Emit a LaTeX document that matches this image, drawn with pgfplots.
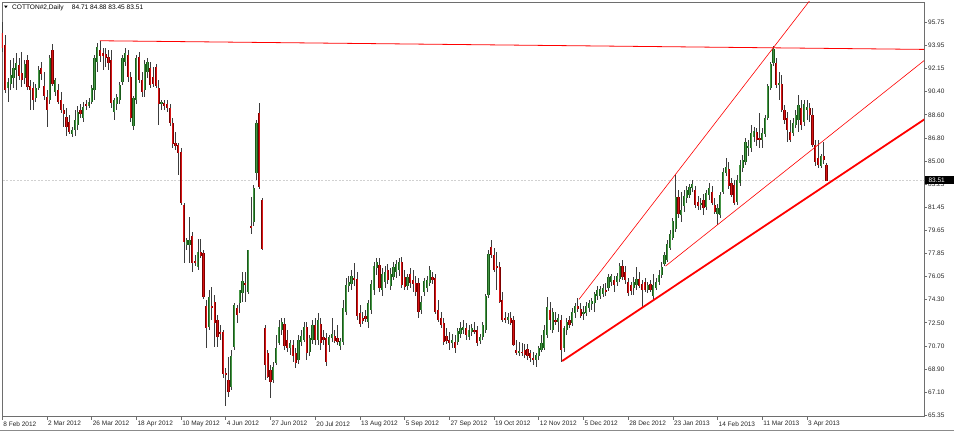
\documentclass[border=0pt]{standalone}
\usepackage{pgfplots}
\pgfplotsset{compat=1.18}
\usepackage{pgfplotstable}
\usepackage{fontspec}
\setmainfont{Liberation Sans}

\definecolor{upc}{RGB}{25,90,25}
\definecolor{upin}{RGB}{70,150,70}
\definecolor{dnc}{RGB}{125,0,0}
\definecolor{dnin}{RGB}{215,20,20}
\definecolor{wickc}{RGB}{60,60,60}
\definecolor{framec}{RGB}{110,110,110}

% daily bars: index, open, high, low, close
\pgfplotstableread{
i o h l c
0 94.93 95.78 93.46 93.77
1 94.00 94.77 90.28 90.51
2 90.67 91.44 89.59 91.13
3 90.98 92.84 90.51 91.68
4 91.44 92.99 90.67 92.22
5 92.06 93.38 90.51 92.60
6 92.45 92.99 91.29 91.60
7 91.83 93.46 90.75 91.29
8 91.44 92.84 90.98 92.53
9 92.84 93.22 90.51 90.75
10 90.82 91.29 88.97 90.51
11 90.67 91.13 88.97 89.74
12 89.90 90.98 89.59 90.67
13 90.67 92.37 90.51 92.06
14 92.22 92.68 91.29 91.75
15 90.82 91.91 89.74 90.05
16 89.97 90.51 87.65 88.97
17 89.74 93.22 89.43 92.99
18 93.61 94.07 90.82 90.98
19 90.36 91.44 90.05 91.29
20 90.51 90.98 89.43 89.59
21 89.74 90.36 88.73 88.97
22 88.97 89.43 87.65 88.66
23 88.42 89.12 86.95 87.65
24 88.04 88.58 87.11 87.26
25 87.11 87.65 86.88 87.42
26 87.42 88.97 86.95 88.19
27 87.81 89.28 87.42 88.81
28 88.97 89.43 88.35 88.66
29 88.35 89.59 88.04 89.20
30 89.43 89.74 88.97 89.28
31 89.28 89.90 89.12 89.59
32 89.59 90.90 89.43 90.67
33 90.51 93.22 89.74 92.99
34 92.68 94.15 91.91 93.84
35 93.61 94.33 92.68 93.15
36 93.38 93.77 92.06 93.15
37 93.30 93.77 92.29 92.99
38 93.07 93.61 92.06 92.60
39 92.84 93.61 89.12 89.51
40 88.81 89.90 88.19 89.74
41 89.43 90.20 88.97 89.97
42 89.74 91.13 89.43 90.90
43 91.13 93.22 90.90 92.99
44 92.68 93.77 92.37 93.38
45 93.22 93.61 91.13 91.52
46 91.52 91.91 88.04 88.35
47 87.73 90.05 87.42 89.90
48 89.74 93.22 89.43 92.99
49 93.07 93.46 91.06 91.29
50 91.29 91.91 89.97 90.36
51 90.51 92.84 89.97 92.53
52 91.91 92.99 91.44 92.68
53 92.22 92.68 90.67 90.90
54 91.52 92.29 90.75 90.98
55 92.29 92.53 90.67 90.82
56 90.67 91.29 87.81 89.43
57 89.43 89.74 88.97 89.59
58 89.51 89.74 88.97 89.28
59 89.43 89.74 88.81 89.12
60 89.12 89.43 87.73 87.96
61 87.96 88.35 86.03 86.33
62 86.41 87.26 85.87 86.18
63 86.26 86.41 83.94 85.64
64 85.72 86.03 81.61 81.77
65 81.61 81.77 77.12 78.75
66 78.52 79.06 78.13 78.90
67 78.52 80.68 77.12 78.90
68 79.21 79.52 76.43 77.12
69 77.28 77.74 76.89 77.12
70 76.81 78.98 76.58 77.98
71 77.98 78.98 77.51 77.67
72 77.90 78.13 74.34 74.49
73 73.80 74.26 70.55 72.09
74 72.17 75.03 71.94 74.49
75 73.80 75.27 72.71 73.64
76 74.11 74.65 70.62 72.48
77 72.71 73.10 70.62 71.40
78 71.78 72.33 71.16 71.63
79 71.78 71.94 68.22 68.53
80 68.61 69.00 66.06 68.46
81 68.07 69.85 66.75 67.14
82 67.53 70.39 67.29 69.93
83 70.62 74.03 70.39 73.87
84 73.64 73.87 72.48 73.10
85 74.03 75.03 73.25 75.03
86 74.80 76.43 74.11 75.73
87 75.58 76.43 74.11 75.50
88 74.88 78.13 74.72 78.13
89 79.99 82.23 79.37 79.91
90 80.30 83.16 79.99 82.93
91 84.09 88.19 83.55 87.96
92 88.73 89.51 82.85 83.01
93 82.00 82.15 78.13 78.21
94 72.09 72.33 68.07 69.23
95 70.16 70.39 68.22 68.30
96 68.84 69.23 66.68 67.91
97 68.07 69.46 67.84 69.07
98 69.38 71.55 69.23 70.55
99 70.93 72.71 70.78 72.17
100 71.94 72.87 71.55 72.56
101 72.40 72.87 70.39 70.70
102 71.16 71.94 70.24 70.55
103 70.55 71.16 70.00 70.93
104 70.78 71.16 69.46 69.93
105 70.16 70.55 69.00 69.38
106 69.62 71.55 69.31 71.16
107 71.01 71.94 70.70 71.47
108 71.16 72.56 71.01 72.17
109 72.17 72.56 69.62 70.16
110 70.24 71.55 69.93 71.32
111 71.16 72.71 70.85 72.33
112 72.33 72.87 70.78 71.16
113 71.16 73.25 70.78 72.71
114 72.40 72.87 70.39 70.93
115 71.40 71.94 70.78 71.16
116 71.32 71.71 69.15 69.46
117 70.78 71.55 70.24 71.40
118 71.32 72.87 71.01 71.63
119 71.47 71.94 70.93 71.09
120 71.32 72.33 70.78 71.01
121 70.70 71.32 70.39 71.09
122 71.01 74.26 70.78 73.64
123 73.33 75.96 73.10 75.42
124 75.34 76.12 74.88 75.65
125 75.50 76.58 75.03 76.12
126 75.96 77.12 75.34 75.81
127 75.89 76.43 72.71 73.02
128 73.25 73.87 72.17 72.40
129 72.87 73.33 72.40 72.63
130 73.02 73.49 72.56 72.79
131 72.56 74.26 72.09 74.03
132 73.49 75.81 73.18 75.50
133 75.03 77.20 74.65 76.89
134 76.74 77.51 76.20 77.20
135 76.97 77.51 74.88 75.19
136 75.03 76.74 74.57 76.27
137 75.65 76.89 75.19 76.43
138 76.58 77.05 75.50 75.81
139 75.34 76.74 75.03 76.27
140 76.04 77.20 75.81 76.81
141 76.43 77.36 75.96 77.05
142 76.58 77.51 76.12 77.20
143 77.20 77.59 75.19 75.42
144 76.04 76.58 75.03 75.27
145 75.34 76.27 75.03 76.04
146 76.27 76.74 75.19 75.58
147 75.81 76.58 74.88 75.50
148 75.58 76.12 74.57 74.88
149 75.58 75.96 72.87 73.33
150 73.49 74.57 73.18 74.11
151 74.88 75.96 74.57 75.73
152 75.19 76.12 74.88 75.81
153 75.58 76.89 75.34 76.58
154 76.04 76.43 75.50 75.81
155 75.96 76.27 73.18 73.33
156 73.49 74.26 72.56 72.71
157 72.87 73.33 72.09 72.33
158 72.48 72.87 70.78 71.01
159 71.47 72.09 70.85 71.09
160 71.16 71.78 70.39 70.93
161 70.93 71.63 70.55 71.16
162 71.01 71.55 70.16 70.55
163 71.01 72.09 70.78 71.86
164 71.63 72.56 71.32 72.09
165 71.94 72.71 71.63 72.17
166 72.09 72.48 71.16 71.55
167 71.40 72.33 71.16 71.94
168 71.78 72.40 71.47 72.09
169 71.94 72.56 71.63 71.78
170 71.94 72.25 70.70 70.93
171 71.09 71.63 70.85 71.40
172 71.40 72.56 71.16 72.33
173 71.94 74.72 71.71 74.57
174 74.65 78.13 74.42 77.82
175 78.36 78.90 77.51 77.74
176 77.74 78.29 76.43 76.58
177 76.89 77.98 75.03 76.74
178 76.81 77.20 74.03 74.11
179 74.26 74.88 72.56 72.71
180 72.87 73.33 72.48 72.71
181 72.71 73.25 72.40 72.94
182 72.87 73.33 72.33 72.48
183 72.71 73.02 70.70 70.78
184 70.39 71.16 70.00 70.16
185 70.24 71.01 69.93 70.31
186 70.24 70.93 69.93 70.16
187 70.39 70.85 69.77 70.00
188 70.47 70.85 69.62 69.93
189 70.16 70.39 69.46 69.77
190 69.77 70.24 69.23 69.62
191 69.62 70.16 69.07 70.00
192 69.93 70.70 69.62 70.55
193 70.39 71.55 70.24 70.93
194 70.55 72.33 70.39 71.94
195 71.55 74.49 71.32 73.72
196 73.49 74.11 71.94 72.71
197 71.94 73.64 71.71 73.33
198 72.71 73.33 72.33 72.63
199 72.56 73.18 71.78 72.87
200 72.71 73.10 69.46 70.39
201 70.55 72.25 70.24 72.09
202 71.94 72.87 71.55 72.56
203 72.71 73.02 72.09 72.33
204 72.48 73.64 72.25 73.33
205 73.25 74.03 72.87 73.80
206 73.80 74.42 73.33 73.56
207 73.56 74.03 72.87 73.02
208 73.18 73.80 72.71 73.33
209 73.25 74.11 73.02 73.80
210 73.64 74.26 73.33 74.03
211 73.95 74.42 73.49 74.18
212 74.03 74.88 73.33 74.72
213 74.57 75.34 74.26 75.03
214 74.57 75.34 74.34 75.11
215 74.72 75.50 74.49 75.19
216 75.03 75.58 74.57 74.88
217 75.19 76.27 74.96 76.04
218 75.65 76.27 75.34 76.12
219 75.81 76.12 74.88 75.42
220 75.65 76.35 75.34 76.12
221 75.89 77.12 75.65 76.89
222 76.89 77.36 75.81 76.04
223 76.43 76.89 75.50 75.81
224 75.65 75.96 74.57 74.80
225 75.42 75.65 74.65 74.96
226 75.19 76.04 74.65 75.65
227 75.42 76.81 75.03 75.89
228 75.89 76.43 75.19 75.34
229 75.50 75.81 73.72 75.03
230 75.65 75.96 74.88 75.03
231 75.03 75.65 74.80 75.42
232 75.50 75.81 74.88 75.03
233 74.57 76.27 74.34 75.42
234 75.19 75.96 75.03 75.65
235 75.65 76.58 75.42 76.20
236 76.20 77.20 75.96 76.81
237 77.05 77.98 76.89 77.74
238 77.36 78.90 77.20 78.59
239 78.29 79.68 78.13 79.37
240 79.06 80.61 78.90 80.37
241 79.75 83.94 79.52 82.23
242 82.23 82.77 80.61 80.92
243 80.84 82.62 80.30 81.23
244 81.54 82.77 81.07 82.31
245 82.15 83.08 81.77 82.77
246 82.39 83.23 82.15 83.01
247 82.93 83.55 82.62 83.23
248 82.77 83.08 81.38 81.61
249 81.85 82.31 81.23 81.54
250 81.69 82.15 81.23 81.77
251 82.00 82.46 80.84 81.38
252 81.46 82.77 81.23 82.54
253 82.39 83.32 82.00 82.93
254 82.62 83.08 81.61 81.77
255 81.61 82.15 80.92 81.07
256 80.92 81.69 80.06 81.38
257 80.84 82.62 80.61 82.39
258 82.62 84.48 82.46 84.17
259 84.09 85.25 83.86 84.55
260 84.40 84.94 82.85 83.08
261 83.32 83.70 82.23 82.39
262 83.16 83.55 81.61 81.77
263 81.85 83.94 81.61 83.55
264 83.32 85.10 83.08 84.71
265 84.48 85.48 84.17 85.10
266 84.94 86.80 84.70 86.49
267 86.03 86.64 85.41 86.18
268 86.03 87.81 85.72 87.19
269 86.88 87.65 86.49 87.34
270 87.26 87.57 86.18 86.64
271 86.80 88.73 86.03 86.64
272 86.64 87.57 86.03 87.19
273 87.11 88.58 86.88 88.35
274 88.35 90.98 88.19 90.82
275 90.67 92.68 90.51 92.53
276 92.60 93.93 92.37 93.69
277 92.60 92.99 90.67 90.90
278 90.90 91.91 89.74 91.06
279 90.98 91.68 88.81 88.97
280 88.97 89.35 87.88 88.19
281 88.35 88.81 86.49 87.42
282 87.26 88.19 86.49 86.64
283 87.19 88.35 86.95 87.96
284 87.81 88.97 87.57 88.58
285 88.19 90.13 87.26 89.35
286 89.12 89.74 87.42 87.81
287 88.04 89.74 87.73 89.43
288 88.97 89.74 88.19 89.20
289 89.12 89.51 88.04 88.58
290 88.58 89.12 86.10 86.26
291 86.26 86.64 84.63 84.94
292 85.25 86.64 84.48 84.71
293 84.63 85.56 84.48 85.41
294 85.41 86.49 84.79 85.10
295 84.71 84.88 83.45 83.51
}\cotton

\begin{document}
\begin{tikzpicture}
\path[use as bounding box] (-2bp,-16.3bp) rectangle (952bp,416.7bp);
\fill[white] (-2bp,-16.3bp) rectangle (952bp,416.7bp);
\begin{axis}[
  at={(0,0)}, anchor=south west,
  scale only axis, width=922bp, height=414.7bp,
  xmin=-0.1, xmax=329.9, ymin=65.23, ymax=97.33,
  axis line style={draw=framec, line width=0.8bp},
  xtick pos=left, ytick pos=right, yticklabel pos=right,
  tick align=outside, major tick length=3bp,
  tick style={draw=framec, line width=0.6bp},
  xtick={0,16,...,288},
  xticklabels={8 Feb 2012,2 Mar 2012,26 Mar 2012,18 Apr 2012,10 May 2012,4 Jun 2012,27 Jun 2012,20 Jul 2012,13 Aug 2012,5 Sep 2012,27 Sep 2012,19 Oct 2012,12 Nov 2012,5 Dec 2012,28 Dec 2012,23 Jan 2013,14 Feb 2013,11 Mar 2013,3 Apr 2013},
  ytick={65.35,67.14,68.93,70.71,72.50,74.29,76.08,77.87,79.66,81.44,83.23,85.02,86.81,88.60,90.39,92.17,93.96,95.75},
  yticklabels={65.35,67.10,68.90,70.70,72.50,74.30,76.05,77.85,79.65,81.45,83.25,85.00,86.80,88.60,90.40,92.15,93.95,95.75},
  tick label style={font=\fontsize{6.5}{7.5}\selectfont, text=black!85},
  xticklabel style={anchor=north west, inner sep=0pt, xshift=1bp, yshift=-1.5bp},
  yticklabel style={anchor=west, inner sep=0pt, xshift=1bp},
  candle/.style={draw=none, mark=none, forget plot,
    error bars/y dir=both, error bars/y explicit, error bars/error mark=none},
]
% bid line
\addplot[forget plot, black!18, dash pattern=on 2bp off 1.5bp, line width=0.6bp] coordinates {(-1,83.51) (331,83.51)};
% wicks
\addplot[candle, error bars/error bar style={draw=wickc, line width=0.7bp}]
  table[x=i, y expr={(\thisrow{h}+\thisrow{l})/2}, y error expr={(\thisrow{h}-\thisrow{l})/2}] {\cotton};
% up bodies
\addplot[restrict expr to domain={\thisrow{c}-\thisrow{o}}{0:50}, candle,
  error bars/error bar style={draw=upc, line width=2.2bp}]
  table[x=i, y expr={(\thisrow{o}+\thisrow{c})/2}, y error expr={abs(\thisrow{c}-\thisrow{o})/2}] {\cotton};
\addplot[restrict expr to domain={\thisrow{c}-\thisrow{o}}{0:50}, candle,
  error bars/error bar style={draw=upin, line width=0.8bp}]
  table[x=i, y expr={(\thisrow{o}+\thisrow{c})/2}, y error expr={abs(\thisrow{c}-\thisrow{o})/2}] {\cotton};
% down bodies
\addplot[restrict expr to domain={\thisrow{o}-\thisrow{c}}{0.001:50}, candle,
  error bars/error bar style={draw=dnc, line width=2.2bp}]
  table[x=i, y expr={(\thisrow{o}+\thisrow{c})/2}, y error expr={abs(\thisrow{c}-\thisrow{o})/2}] {\cotton};
\addplot[restrict expr to domain={\thisrow{o}-\thisrow{c}}{0.001:50}, candle,
  error bars/error bar style={draw=dnin, line width=0.8bp}]
  table[x=i, y expr={(\thisrow{o}+\thisrow{c})/2}, y error expr={abs(\thisrow{c}-\thisrow{o})/2}] {\cotton};
% trend lines
\addplot[forget plot, red, line width=0.8bp] coordinates {(34.93,94.33) (330.2,93.66)};
\addplot[forget plot, red, line width=0.6bp] coordinates {(206.4,74.31) (300,100.52)};
\addplot[forget plot, red, line width=0.6bp] coordinates {(237.4,76.89) (330.2,92.84)};
\addplot[forget plot, red, line width=1.8bp] coordinates {(200.4,69.54) (330.2,88.27)};
\end{axis}
% header
\fill[black] (2.2bp,411bp) -- (5.6bp,411bp) -- (3.9bp,408.6bp) -- cycle;
\node[anchor=base west, inner sep=0pt, font=\fontsize{6.6}{8}\selectfont] at (10bp,407.4bp) {COTTON\#2,Daily};
\node[anchor=base west, inner sep=0pt, font=\fontsize{6.6}{8}\selectfont] at (69.7bp,407.4bp) {84.71 84.88 83.45 83.51};
% last price box
\fill[black] (923bp,232.3bp) rectangle (952bp,240.2bp);
\node[anchor=west, inner sep=0pt, text=white, font=\fontsize{6.5}{7.5}\selectfont] at (926.3bp,236.2bp) {83.51};
% window frame bottom
\draw[framec!80, line width=1bp] (-2bp,-13.6bp) -- (952bp,-13.6bp);
\end{tikzpicture}
\end{document}
